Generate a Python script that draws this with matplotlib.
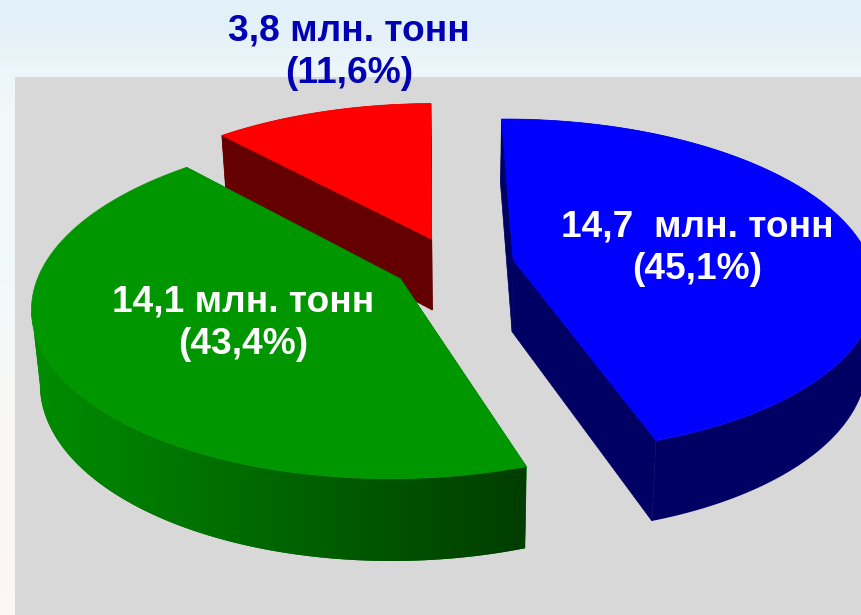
import numpy as np
import matplotlib
matplotlib.use("Agg")
import matplotlib.pyplot as plt
from matplotlib.patches import Polygon, Rectangle

# data
names = ["blue", "green", "red"]
shares = [45.1, 43.4, 11.6]
labels = ["14,7  млн. тонн\n(45,1%)", "14,1 млн. тонн\n(43,4%)", "3,8 млн. тонн\n(11,6%)"]
top_colors = ["#0000ff", "#009600", "#ff0000"]
side_colors = ["#000064", "#006400", "#640000"]
label_colors = ["white", "white", "#0000b4"]
label_pos = [(697, 248), (243, 323), (349, 52)]

W, H = 861, 615
CX, CY = 453.5, 264.5  # pie centre, pixels
A, B = 358, 164        # ellipse scale
P = 0.155              # perspective strength
EXPLODE = 0.17
DEPTH = 72
SHRINK = 0.98          # base of the pie is a bit narrower
ROTATION = np.radians(-0.7)


def project(X, V, bottom=False):
    w = 1 / (1 - P * V)
    s = SHRINK if bottom else 1.0
    d = DEPTH if bottom else 0.0
    return CX + A * X * w * s, CY + (B * V * s + d) * w


def wedge(start, end, explode=EXPLODE, n=200):
    mid = 0.5 * (start + end)
    ox, ov = explode * np.sin(mid), -explode * np.cos(mid)
    th = np.linspace(start, end, n)
    return ox, ov, ox + np.sin(th), ov - np.cos(th)


def green_rim(x):
    # rim shading of the green slice goes dark towards the right
    t = np.clip((x - 40) / 480, 0, 1)
    g = (140 - 78 * t) / 255
    return np.column_stack([np.zeros_like(g), g, np.zeros_like(g)])


def draw_slice(ax, start, end, top_c, side_c, graded=False):
    ox, ov, xs, vs = wedge(start, end)

    # cut faces
    for i in (0, -1):
        x_a = [ox, xs[i]]
        v_a = [ov, vs[i]]
        tx, ty = project(np.array(x_a), np.array(v_a))
        bx, by = project(np.array(x_a), np.array(v_a), bottom=True)
        pts = np.column_stack([np.r_[tx, bx[::-1]], np.r_[ty, by[::-1]]])
        ax.add_patch(Polygon(pts, fc=side_c, ec=side_c, lw=0.5))

    # outer wall
    tx, ty = project(xs, vs)
    bx, by = project(xs, vs, bottom=True)
    pts = np.column_stack([np.r_[tx, bx[::-1]], np.r_[ty, by[::-1]]])
    if graded:
        # only the front part of the rim shows, and a self crossing outline
        # would leave a hole in the clip
        k = np.argmin(tx) + 1
        pts = np.column_stack([np.r_[tx[:k], bx[:k][::-1]], np.r_[ty[:k], by[:k][::-1]]])
    wall = Polygon(pts, fc=side_c, ec="none", zorder=1.4)
    ax.add_patch(wall)
    if graded:
        x0, x1 = pts[:, 0].min(), pts[:, 0].max()
        y0, y1 = pts[:, 1].min(), pts[:, 1].max()
        ramp = green_rim(np.linspace(x0, x1, 256))[None, :, :]
        img = ax.imshow(ramp, extent=(x0, x1, y1, y0), aspect="auto",
                        interpolation="bilinear", zorder=1.5)
        img.set_clip_path(wall)

    # top
    ax_, ay_ = project(np.array([ox]), np.array([ov]))
    pts = np.column_stack([np.r_[ax_, tx], np.r_[ay_, ty]])
    ax.add_patch(Polygon(pts, fc=top_c, ec=top_c, lw=0.5, zorder=2))


fig = plt.figure(figsize=(W / 100, H / 100), dpi=100)
ax = fig.add_axes([0, 0, 1, 1])

# slide background behind the grey plot area
grad = np.array([[(226, 240, 247)], [(236, 245, 249)], [(241, 248, 250)], [(240, 248, 250)],
                 [(240, 248, 250)], [(241, 248, 250)], [(243, 248, 249)], [(245, 248, 248)],
                 [(247, 248, 247)], [(248, 247, 246)], [(249, 247, 245)], [(250, 246, 244)],
                 [(251, 246, 244)], [(252, 246, 244)]], dtype=np.uint8)
ax.imshow(grad, extent=(0, W, H, 0), aspect="auto", interpolation="bilinear", zorder=0)
ax.add_patch(Rectangle((15, 77), W - 15, H - 77, fc="#d8d8d8", ec="none", zorder=0.5))

fracs = np.array(shares) / sum(shares)
edges = np.r_[0, np.cumsum(fracs)] * 2 * np.pi + ROTATION

# back to front: red, blue, green
for i in (2, 0, 1):
    draw_slice(ax, edges[i], edges[i + 1], top_colors[i], side_colors[i], graded=names[i] == "green")

for txt, pos, c in zip(labels, label_pos, label_colors):
    ax.text(pos[0], pos[1], txt, color=c, fontsize=26.7, fontweight="bold",
            family="Liberation Sans", ha="center", va="center", linespacing=1.28, zorder=10)

ax.set_xlim(0, W)
ax.set_ylim(H, 0)
ax.axis("off")

fig.savefig("out.png", dpi=100)
